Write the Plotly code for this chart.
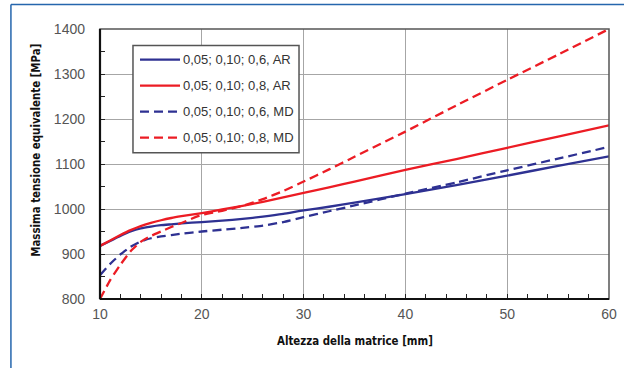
import plotly.graph_objects as go

# Altezza della matrice [mm]
altezza = [10, 11, 12, 13, 14, 15, 16, 17, 18, 20, 22, 24, 26, 28, 30, 32.5, 35, 40, 45, 50, 55, 60]

# Massima tensione equivalente [MPa] for each configuration
ar_06 = [918, 929, 940, 950, 957, 961, 964, 966, 968, 971, 974, 978, 983, 989, 997, 1005, 1014, 1033, 1053, 1074, 1096, 1117]
ar_08 = [918, 930, 942, 953, 962, 969, 975, 980, 984, 991, 999, 1007, 1016, 1026, 1036, 1048, 1061, 1087, 1111, 1136, 1161, 1186]
md_06 = [853, 878, 899, 916, 928, 935, 939, 942, 945, 950, 954, 958, 963, 971, 982, 995, 1008, 1034, 1059, 1086, 1112, 1138]
md_08 = [800, 842, 876, 906, 927, 940, 950, 960, 969, 987, 996, 1007, 1022, 1040, 1061, 1088, 1116, 1172, 1230, 1287, 1343, 1400]

series_names = ["0,05; 0,10; 0,6, AR", "0,05; 0,10; 0,8, AR",
                "0,05; 0,10; 0,6, MD", "0,05; 0,10; 0,8, MD"]

BLUE = "#2e3192"
RED = "#ec1c24"
DASH = "9px,5px"
styles = [(ar_06, BLUE, "solid"), (ar_08, RED, "solid"),
          (md_06, BLUE, DASH), (md_08, RED, DASH)]

fig = go.Figure()
for name, (vals, col, dash) in zip(series_names, styles):
    fig.add_trace(go.Scatter(
        x=altezza, y=vals, mode="lines", name=name, showlegend=False,
        line=dict(color=col, width=2.3, dash=dash, shape="spline", smoothing=0.5),
    ))

tick_font = dict(family="Liberation Sans, Arial", size=14, color="#555555")
title_font = dict(family="Liberation Sans Narrow, DejaVu Sans Condensed, Arial", size=11.4, color="#111111")

fig.update_layout(
    width=624, height=368,
    margin=dict(l=100, r=15, t=29, b=69),
    paper_bgcolor="white", plot_bgcolor="white",
    showlegend=False,
    xaxis=dict(
        range=[10, 60], dtick=10, tick0=10, automargin=False,
        showgrid=True, gridcolor="#a6a6a6", gridwidth=1,
        ticks="inside", ticklen=5, tickcolor="#222222",
        minor=dict(dtick=2, ticks="inside", ticklen=5, tickcolor="#222222", showgrid=False),
        tickfont=tick_font, zeroline=False, showline=False,
        ticklabelstandoff=5,
    ),
    yaxis=dict(
        range=[800, 1400], dtick=100, automargin=False,
        showgrid=True, gridcolor="#a6a6a6", gridwidth=1,
        ticks="inside", ticklen=5, tickcolor="#222222",
        minor=dict(dtick=50, ticks="inside", ticklen=5, tickcolor="#222222", showgrid=False),
        tickfont=tick_font, zeroline=False, showline=False,
        ticklabelstandoff=14,
    ),
)

# plot frame: thin grey top/right, heavier black left/bottom
fig.add_shape(type="rect", xref="paper", yref="paper", x0=0, y0=0, x1=1, y1=1,
              line=dict(color="#555555", width=1.5))
fig.add_shape(type="line", xref="paper", yref="paper", x0=0, y0=0, x1=1, y1=0,
              line=dict(color="#111111", width=2.2))
fig.add_shape(type="line", xref="paper", yref="paper", x0=0, y0=0, x1=0, y1=1,
              line=dict(color="#111111", width=2.2))

# blue page border along top and left
fig.add_shape(type="line", xref="paper", yref="paper", x0=-0.175, y0=1.091, x1=1.03, y1=1.091,
              line=dict(color="#2566ad", width=1.5))
fig.add_shape(type="line", xref="paper", yref="paper", x0=-0.175, y0=-0.256, x1=-0.175, y1=1.091,
              line=dict(color="#2566ad", width=1.5))

# legend box with a line sample and label for each series
fig.add_shape(type="rect", xref="paper", yref="paper", x0=0.0648, y0=0.5417, x1=0.391, y1=0.9388,
              line=dict(color="#555555", width=1.5), fillcolor="white", layer="above")
legend_rows = [0.8868, 0.7904, 0.6939, 0.5974]
for name, (vals, col, dash), ly in zip(series_names, styles, legend_rows):
    fig.add_shape(type="line", xref="paper", yref="paper", x0=0.0786, x1=0.1572, y0=ly, y1=ly,
                  line=dict(color=col, width=2.3, dash=dash), layer="above")
    fig.add_annotation(text=name, xref="paper", yref="paper", x=0.1585, y=ly,
                       xanchor="left", yanchor="middle", showarrow=False,
                       font=dict(family="Liberation Sans, Arial", size=13, color="#333333"))

# axis titles
fig.add_annotation(text="<b>Altezza della matrice [mm]</b>", xref="paper", yref="paper",
                   x=0.5, y=-0.156, showarrow=False, font=title_font,
                   xanchor="center", yanchor="middle")
fig.add_annotation(text="<b>Massima tensione equivalente [MPa]</b>", xref="paper", yref="paper",
                   x=-0.1257, y=0.549, showarrow=False, font=title_font, textangle=-90,
                   xanchor="center", yanchor="middle")

fig.write_html("out.html")
